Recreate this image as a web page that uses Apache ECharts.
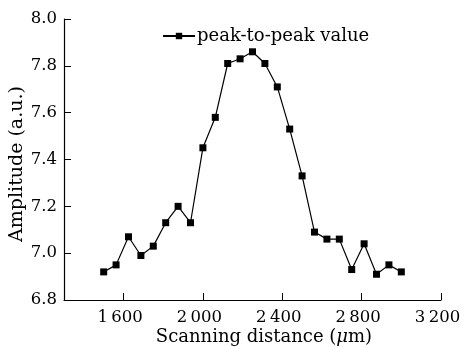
<!DOCTYPE html>
<html>
<head>
<meta charset="utf-8">
<script src="https://cdn.jsdelivr.net/npm/echarts@6/dist/echarts.min.js"></script>
<style>
  html, body { margin: 0; padding: 0; background: #fff; }
  #main { width: 465px; height: 347px; }
</style>
</head>
<body>
<div id="main"></div>
<script>
// scanning positions (um) and peak-to-peak amplitude (a.u.)
const distance = [1500, 1562.5, 1625, 1687.5, 1750, 1812.5, 1875, 1937.5, 2000, 2062.5,
  2125, 2187.5, 2250, 2312.5, 2375, 2437.5, 2500, 2562.5, 2625, 2687.5,
  2750, 2812.5, 2875, 2937.5, 3000];
const amplitude = [6.92, 6.95, 7.07, 6.99, 7.03, 7.13, 7.20, 7.13, 7.45, 7.58,
  7.81, 7.83, 7.86, 7.81, 7.71, 7.53, 7.33, 7.09, 7.06, 7.06,
  6.93, 7.04, 6.91, 6.95, 6.92];
const xTicks = [1600, 2000, 2400, 2800, 3200];

const font = 'DejaVu Serif';

let option = {
  animation: false,
  textStyle: { fontFamily: font, color: '#000' },
  grid: { left: 64, right: 24, top: 19, bottom: 47, outerBoundsMode: 'none' },
  legend: {
    left: 157,
    top: 22,
    itemWidth: 32,
    itemHeight: 8,
    itemGap: 4,
    textStyle: { fontFamily: font, fontSize: 18, color: '#000', padding: [0, 0, 0, -3] },
    data: ['peak-to-peak value']
  },
  xAxis: {
    type: 'value',
    min: 1300,
    max: 3200,
    name: 'Scanning distance ({i|μ}m)',
    nameLocation: 'middle',
    nameGap: 28,
    nameMoveOverlap: false,
    nameTextStyle: {
      fontFamily: font, fontSize: 18, color: '#000', padding: [0, 0, 0, 23],
      rich: { i: { fontFamily: font, fontSize: 18, fontStyle: 'italic' } }
    },
    splitLine: { show: false },
    axisLine: { lineStyle: { color: '#000', width: 1.2 } },
    axisTick: { inside: true, length: 7, customValues: xTicks, lineStyle: { color: '#000' } },
    axisLabel: {
      customValues: xTicks,
      fontFamily: font, fontSize: 16.5, color: '#000', margin: 9,
      padding: [0, 7, 0, 0],
      formatter: v => {
        let s = String(v);
        return s.slice(0, 1) + '\u2009' + s.slice(1);
      }
    }
  },
  yAxis: {
    type: 'value',
    min: 6.8,
    max: 8.0,
    interval: 0.2,
    name: 'Amplitude (a.u.)',
    nameLocation: 'middle',
    nameGap: 37,
    nameMoveOverlap: false,
    nameTextStyle: { fontFamily: font, fontSize: 19, color: '#000', padding: [0, 9, 0, 0] },
    splitLine: { show: false },
    axisLine: { show: true, lineStyle: { color: '#000', width: 1.2 } },
    axisTick: { show: true, inside: true, length: 7, lineStyle: { color: '#000' } },
    axisLabel: {
      fontFamily: font, fontSize: 16.5, color: '#000', margin: 7,
      formatter: v => v.toFixed(1)
    }
  },
  series: [{
    name: 'peak-to-peak value',
    type: 'line',
    data: distance.map((d, i) => [d, amplitude[i]]),
    symbol: 'rect',
    symbolSize: 7,
    itemStyle: { color: '#000' },
    lineStyle: { color: '#000', width: 1.2 }
  }]
};

let myChart = echarts.init(document.getElementById('main'));
myChart.setOption(option);
</script>
</body>
</html>
